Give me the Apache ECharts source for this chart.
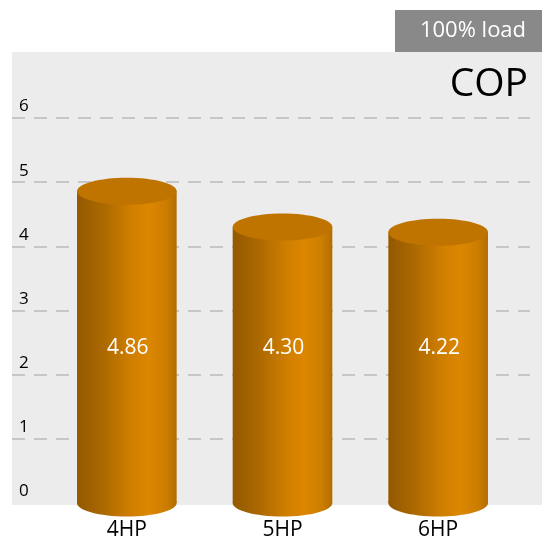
<!DOCTYPE html>
<html>
<head>
<meta charset="utf-8">
<script src="https://cdn.jsdelivr.net/npm/echarts@6/dist/echarts.min.js"></script>
<style>
  html, body { margin: 0; padding: 0; background: #fff; }
  #chart { width: 542px; height: 544px; }
</style>
</head>
<body>
<div id="chart"></div>
<script>
const categories = ['4HP', '5HP', '6HP'];
const copValues = [4.86, 4.30, 4.22];
const yMin = 0;
const yMax = 6;
const yStep = 1;

const FONT = '"Open Sans", "Noto Sans", sans-serif';

const chart = echarts.init(document.getElementById('chart'));

// horizontal shading across the cylinder body
const bodyFill = {
  type: 'linear', x: 0, y: 0, x2: 1, y2: 0,
  colorStops: [
    { offset: 0, color: '#935900' },
    { offset: 0.25, color: '#aa6800' },
    { offset: 0.55, color: '#d17f00' },
    { offset: 0.72, color: '#dc8700' },
    { offset: 0.9, color: '#cc7d00' },
    { offset: 1, color: '#b26c00' }
  ]
};

function renderCylinder(params, api) {
  const idx = api.value(0);
  const val = api.value(1);
  const base = api.coord([idx, 0]);
  const top = api.coord([idx, val]);
  const labelPt = api.coord([idx, 2.42]);
  const rx = api.size([1, 0])[0] * 0.32;
  const ry = 13.5;
  const cx = base[0];
  return {
    type: 'group',
    children: [
      { type: 'ellipse', shape: { cx, cy: base[1], rx, ry }, style: { fill: bodyFill } },
      { type: 'rect', shape: { x: cx - rx, y: top[1], width: rx * 2, height: base[1] - top[1] }, style: { fill: bodyFill } },
      { type: 'ellipse', shape: { cx, cy: top[1], rx, ry }, style: { fill: '#c07400' } },
      {
        type: 'text',
        style: {
          text: val.toFixed(2), x: cx + 1, y: labelPt[1],
          fill: '#ffffff', font: '21px ' + FONT,
          align: 'center', verticalAlign: 'middle'
        }
      }
    ]
  };
}

const option = {
  animation: false,
  backgroundColor: '#ffffff',
  graphic: [
    { type: 'rect', z: -10, shape: { x: 12, y: 52, width: 530, height: 453 }, style: { fill: '#ececec' } },
    { type: 'rect', shape: { x: 395, y: 10, width: 147, height: 42 }, style: { fill: '#898989' } },
    {
      type: 'text',
      style: { text: '100% load', x: 473, y: 31, align: 'center', verticalAlign: 'middle', fill: '#ffffff', font: '22px ' + FONT }
    },
    {
      type: 'text',
      style: { text: 'COP', x: 528, y: 85, align: 'right', verticalAlign: 'middle', fill: '#000000', font: '39px ' + FONT }
    }
  ],
  grid: [
    { left: 12, right: 12, top: 118, bottom: 41 },
    { left: 49, right: 26, top: 118, bottom: 41 }
  ],
  xAxis: [
    { type: 'value', gridIndex: 0, min: 0, max: 1, show: false },
    {
      type: 'category', gridIndex: 1, data: categories,
      axisLine: { show: false }, axisTick: { show: false },
      axisLabel: { color: '#000', fontSize: 21, fontFamily: FONT, margin: 17 }
    }
  ],
  yAxis: [
    {
      type: 'value', gridIndex: 0, min: yMin, max: yMax, interval: yStep,
      axisLine: { show: false }, axisTick: { show: false },
      axisLabel: {
        inside: true, margin: 7, color: '#000', fontSize: 17, fontFamily: FONT,
        align: 'left', verticalAlign: 'bottom', padding: [0, 0, 3, 0]
      },
      splitLine: {
        show: true, showMinLine: false,
        lineStyle: { color: '#c6c6c6', width: 2, type: [13, 9] }
      }
    },
    { type: 'value', gridIndex: 1, min: yMin, max: yMax, interval: yStep, show: false, splitLine: { show: false } }
  ],
  series: [
    {
      type: 'custom',
      xAxisIndex: 1,
      yAxisIndex: 1,
      renderItem: renderCylinder,
      data: copValues.map((v, i) => [i, v])
    }
  ]
};

chart.setOption(option);
</script>
</body>
</html>
